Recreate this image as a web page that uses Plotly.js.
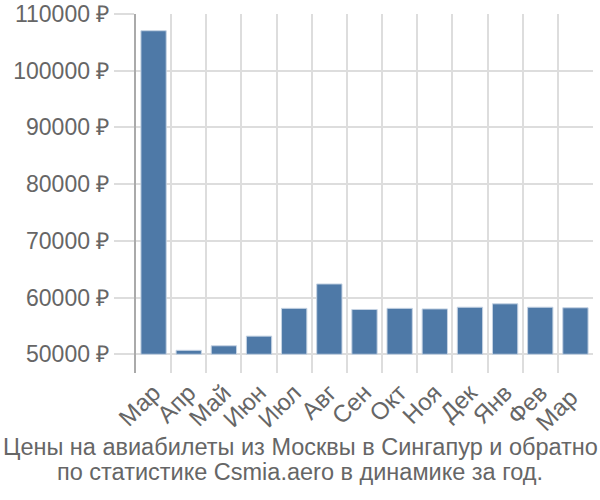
<!DOCTYPE html>
<html><head><meta charset="utf-8">
<script src="https://cdn.plot.ly/plotly-3.0.1.min.js"></script>
<style>body{margin:0}#c{width:600px;height:500px}</style></head>
<body><div id="c"></div>
<script>
const months = ["Мар","Апр","Май","Июн","Июл","Авг","Сен","Окт","Ноя","Дек","Янв","Фев","Мар "];
const prices = [107050, 50700, 51500, 53200, 58100, 62400, 57900, 58100, 58000, 58300, 58900, 58300, 58200];
const baseValue = 50000;
const yTicks = [50000, 60000, 70000, 80000, 90000, 100000, 110000];
const yTickText = yTicks.map(v => v + " ₽");
const titleLines = ["Цены на авиабилеты из Москвы в Сингапур и обратно", "по статистике Csmia.aero в динамике за год."];

const font = "Liberation Sans, Arial, sans-serif";
Plotly.newPlot("c", [{
  type: "bar",
  x: months,
  y: prices.map(v => v - baseValue),
  base: prices.map(() => baseValue),
  marker: {color: "#4e79a7", line: {color: "#c5d3e3", width: 1}},
  width: 0.72,
  hoverinfo: "skip"
}], {
  width: 600, height: 500,
  margin: {l: 136, r: 7, t: 14, b: 127},
  paper_bgcolor: "#fff", plot_bgcolor: "#fff",
  showlegend: false,
  font: {family: font, color: "#666", size: 23},
  xaxis: {
    type: "category", tickson: "boundaries", range: [-0.5, 12.5],
    showgrid: true, gridcolor: "#ddd", gridwidth: 2,
    ticks: "", tickangle: -45, tickfont: {size: 24, color: "#666"},
    showline: false, zeroline: false
  },
  yaxis: {
    range: [46700, 110000], tickvals: yTicks, ticktext: yTickText,
    showgrid: true, gridcolor: "#ddd", gridwidth: 2,
    ticks: "outside", ticklen: 20, tickcolor: "#ddd", tickwidth: 2,
    tickfont: {size: 23, color: "#666"},
    showline: true, linecolor: "#aaa", linewidth: 2, zeroline: false
  },
  annotations: titleLines.map((t, i) => ({
    text: t, xref: "paper", yref: "paper", x: 0.5, xanchor: "center",
    y: 0, yanchor: "middle", showarrow: false, xshift: -64.5, yshift: -74 - 25 * i,
    font: {size: 23.5, color: "#666", family: font}
  }))
}, {staticPlot: true});
</script></body></html>
